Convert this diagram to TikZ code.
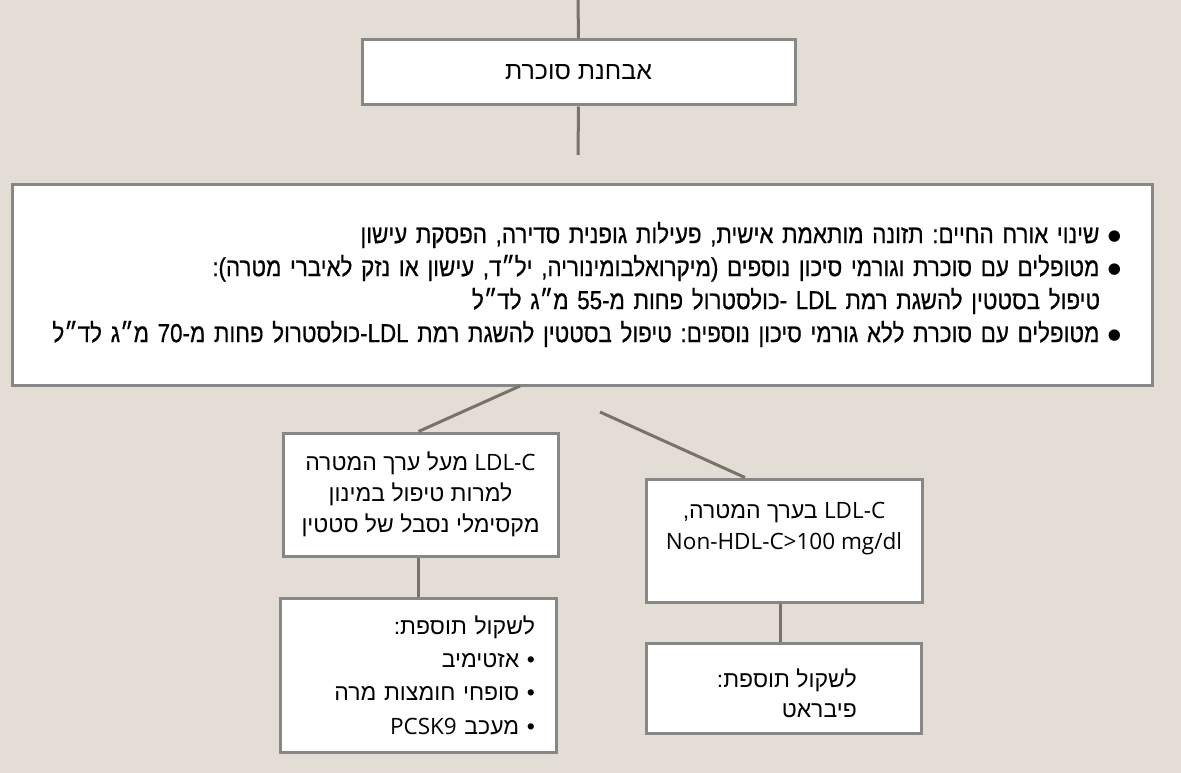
\documentclass[tikz,border=0pt]{standalone}
\usepackage{fontspec}
\usetikzlibrary{calc}
\TeXXeTstate=1
\frenchspacing
\newfontfamily\heb[Script=Hebrew]{Liberation Sans}
\newfontfamily\hebn[Script=Hebrew,FakeStretch=0.86,FakeBold=0.6]{Liberation Sans}
\newfontfamily\lat{Open Sans}
\newfontfamily\dvs{DejaVu Sans}
\definecolor{bg}{HTML}{E3DDD6}
\definecolor{boxline}{HTML}{878787}
\definecolor{connc}{HTML}{7A7268}
\newcommand\bigbul{\raisebox{3pt}{\dvs\fontsize{15}{15}\selectfont ●}\ }
\newcommand\latc[1]{{\lat\fontsize{22.5}{31}\selectfont #1}}
\begin{document}
\begin{tikzpicture}[x=1pt,y=-1pt,
  box/.style={draw=boxline,line width=3pt,fill=white,inner sep=0pt},
  connline/.style={draw=connc,line width=3pt},
  lowfont/.style={font=\heb\fontsize{23}{31}\selectfont}]
\fill[bg] (0,0) rectangle (1181,773);
\useasboundingbox (0,0) rectangle (1181,773);

% top box
\node[box, minimum width=433pt, minimum height=65pt, font=\heb\fontsize{25}{28}\selectfont] (dx) at (578.5,72.5) {\beginR אבחנת סוכרת\endR};
\coordinate (topend) at (578,0);
\coordinate (midend) at (578,155);
\draw[connline] (topend) -- (dx.north);
\draw[connline] (dx.south) -- (midend);

% big box
\node[box, minimum width=1140pt, minimum height=201pt, text width=1132pt, align=right,
  font=\hebn\fontsize{26}{33}\selectfont] (tx) at (582,284.5) {%
\beginR\bigbul שינוי אורח החיים: תזונה מותאמת אישית, פעילות גופנית סדירה, הפסקת עישון\endR\kern27pt\\
\beginR\bigbul מטופלים עם סוכרת וגורמי סיכון נוספים (מיקרואלבומינוריה, יל״ד, עישון או נזק לאיברי מטרה):\endR\kern27pt\\
\beginR טיפול בסטטין להשגת רמת LDL -כולסטרול פחות מ-55 מ״ג לד״ל\endR\kern48pt\\
\beginR\bigbul מטופלים עם סוכרת ללא גורמי סיכון נוספים: טיפול בסטטין להשגת רמת \beginL LDL\endL-כולסטרול פחות מ-70 מ״ג לד״ל\endR\kern27pt};

% second level boxes
\node[box, minimum width=275pt, minimum height=123pt, align=center, lowfont] (b2) at (420.5,494.5) {%
\beginR\beginL\latc{LDL-C}\endL\ מעל ערך המטרה\endR\\
\beginR למרות טיפול במינון\endR\\
\beginR מקסימלי נסבל של סטטין\endR};

\node[box, minimum width=276pt, minimum height=123pt] (b3) at (784,540.5) {};
\node[align=center, lowfont, inner sep=0pt] (b3t) at (784,529) {%
\beginR\beginL\latc{LDL-C}\endL\ בערך המטרה,\endR\\
\latc{Non-HDL-C>100 mg/dl}};

% third level boxes
\node[box, minimum width=276pt, minimum height=154pt, text width=234pt, align=right,
  font=\heb\fontsize{23}{33.3}\selectfont] (b4) at (418,675) {%
\beginR לשקול תוספת:\endR\\
\beginR •\ אזטימיב\endR\\
\beginR •\ סופחי חומצות מרה\endR\\
\beginR •\ מעכב \beginL\latc{PCSK9}\endL\endR};

\node[box, minimum width=275pt, minimum height=90pt] (b5) at (783.5,688) {};
\node[align=right, anchor=east, inner sep=0pt, font=\heb\fontsize{23}{30}\selectfont] (b5t) at (857,693) {%
\beginR לשקול תוספת:\endR\\
\beginR פיבראט\endR};

% connectors
\coordinate (c1) at (520,386);
\coordinate (c2) at (600,412);
\draw[connline] (c1) -- ([xshift=-2pt]b2.north);
\draw[connline] (c2) -- ($(b3.north west)!0.36!(b3.north east)$);
\draw[connline] (b4.north |- b2.south) -- (b4.north);
\draw[connline] ([xshift=-4pt]b3.south) -- ([xshift=-4pt]b3.south |- b5.north);
\end{tikzpicture}
\end{document}
